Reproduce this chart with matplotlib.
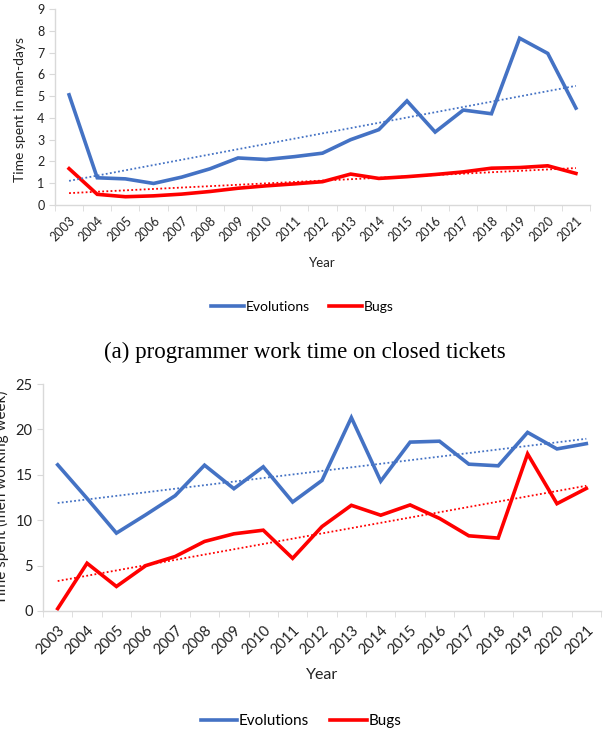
import numpy as np
import matplotlib
matplotlib.use('Agg')
from matplotlib import pyplot as plt

# 데이터
years = [str(y) for y in range(2003, 2022)]
evo_days = [5.06, 1.25, 1.2, 0.99, 1.28, 1.66, 2.16, 2.09, 2.22, 2.38,
            3.0, 3.46, 4.78, 3.35, 4.36, 4.19, 7.66, 6.96, 4.45]
bug_days = [1.67, 0.49, 0.38, 0.42, 0.5, 0.62, 0.77, 0.88, 0.97, 1.07,
            1.42, 1.22, 1.3, 1.4, 1.52, 1.69, 1.72, 1.8, 1.45]
evo_weeks = [16.1, 12.4, 8.58, 10.6, 12.7, 16.06, 13.47, 15.88, 12.0, 14.38,
             21.3, 14.3, 18.6, 18.7, 16.17, 15.99, 19.67, 17.85, 18.43]
bug_weeks = [0.26, 5.26, 2.7, 5.0, 6.0, 7.66, 8.5, 8.9, 5.8, 9.3,
             11.64, 10.55, 11.68, 10.2, 8.28, 8.03, 17.3, 11.82, 13.5]

BLUE = '#4472C4'
RED = '#FF0000'
GRID = '#D9D9D9'
plt.rcParams['font.family'] = ['Lato', 'DejaVu Sans']

W, H = 605, 734
fig = plt.figure(figsize=(W / 100, H / 100), dpi=100)


def px_axes(left, right, top, bottom):
    return fig.add_axes([left / W, 1 - bottom / H, (right - left) / W, (bottom - top) / H])


def draw(ax, evo, bug, ylim, yticks, tick_fs, xtick_fs, xpad):
    x = np.arange(len(years))
    ax.plot(x, evo, color=BLUE, lw=2.6, solid_joinstyle='miter', label='Evolutions')
    ax.plot(x, bug, color=RED, lw=2.6, solid_joinstyle='miter', label='Bugs')
    # 선형 추세선
    for vals, c in ((evo, BLUE), (bug, RED)):
        k, b = np.polyfit(x, vals, 1)
        ax.plot(x, k * x + b, color=c, lw=1.3, ls=(0, (1, 1.3)))
    ax.set_xlim(-0.5, len(years) - 0.5)
    ax.set_ylim(*ylim)
    ax.set_yticks(yticks)
    ax.set_xticks(x)
    ax.set_xticklabels(years, rotation=45, ha='right', rotation_mode='anchor',
                       fontsize=xtick_fs, color='#222222')
    ax.tick_params(axis='x', which='major', length=0, pad=xpad)
    ax.set_xticks(np.arange(len(years) + 1) - 0.5, minor=True)
    ax.tick_params(axis='x', which='minor', length=4, color=GRID)
    ax.tick_params(axis='y', length=4, color=GRID, labelsize=tick_fs, labelcolor='#222222')
    for s in ('top', 'right'):
        ax.spines[s].set_visible(False)
    for s in ('left', 'bottom'):
        ax.spines[s].set_color(GRID)
        ax.spines[s].set_linewidth(1)


# (a) 위쪽 차트
ax1 = px_axes(55, 590, 9, 205)
draw(ax1, evo_days, bug_days, (0, 9), range(0, 10), 9, 9, 7)
fig.text(20 / W, 1 - 110 / H, 'Time spent in man-days', rotation=90, ha='center',
         va='center', fontsize=10, color='#222222')
fig.text(322 / W, 1 - 263 / H, 'Year', ha='center', va='center', fontsize=9.5, color='#222222')
h, l = ax1.get_legend_handles_labels()
fig.legend(h[:2], l[:2], loc='center', bbox_to_anchor=(302 / W, 1 - 307 / H), ncol=2,
           frameon=False, fontsize=10, handlelength=2.4, handletextpad=0.1, columnspacing=1.4)
fig.text(305 / W, 1 - 352 / H, '(a) programmer work time on closed tickets', ha='center',
         va='center', fontsize=16.5, family='Liberation Serif')

# (b) 아래쪽 차트
ax2 = px_axes(43, 601, 384, 611)
draw(ax2, evo_weeks, bug_weeks, (0, 25), range(0, 26, 5), 10.5, 10.5, 9)
fig.text(1 / W, 1 - 497 / H, 'Time spent (men working week)', rotation=90, ha='center',
         va='center', fontsize=11, color='#222222')
fig.text(322 / W, 1 - 675 / H, 'Year', ha='center', va='center', fontsize=11.5, color='#222222')
h, l = ax2.get_legend_handles_labels()
fig.legend(h[:2], l[:2], loc='center', bbox_to_anchor=(301 / W, 1 - 721 / H), ncol=2,
           frameon=False, fontsize=11, handlelength=2.4, handletextpad=0.1, columnspacing=1.4)

fig.savefig('out.png', dpi=100)
